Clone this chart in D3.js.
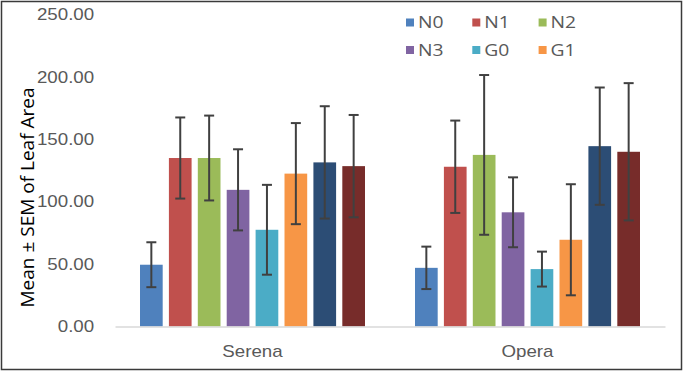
<!DOCTYPE html>
<meta charset="utf-8">
<title>Mean ± SEM of Leaf Area</title>
<style>
body { margin: 0; background: #fff; }
svg { display: block; font-family: "Open Sans", sans-serif; }
.axis--y path, .axis--y line { display: none; }
.axis--y text { fill: #595959; font-size: 16px; }
.axis--x line { display: none; }
.axis--x path { stroke: #d9d9d9; stroke-width: 1.5px; }
.axis--x text { fill: #595959; font-size: 16px; }
.err line { stroke: #404040; stroke-width: 2px; }
.legend text { fill: #595959; font-size: 16.5px; }
</style>
<svg id="chart" width="683" height="372"></svg>
<script src="https://d3js.org/d3.v7.min.js"></script>
<script>
// values
const groups = ["Serena", "Opera"];
const series = ["N0", "N1", "N2", "N3", "G0", "G1", "G2", "G3"];
const colours = ["#4f81bd", "#c0504d", "#9bbb59", "#8064a2", "#4bacc6", "#f79646", "#2c4d75", "#772c2a"];
const serenaMean = [49.5, 135, 135, 109.5, 77.5, 122.5, 131.5, 128.5];
const serenaSem = [18, 32.5, 34, 32.5, 36, 40.5, 45, 41];
const operaMean = [47, 128, 137.5, 91.5, 46, 69.5, 144.5, 140];
const operaSem = [17, 37, 64, 28, 14, 44.5, 47, 55];
const yTicks = [0, 50, 100, 150, 200, 250];
const legendShown = ["N0", "N1", "N2", "N3", "G0", "G1"]; // the last two entries are cut off in the original

const stretch = 1.17; // the source picture is a bit wider than tall

let svg = d3.select("#chart");

let rows = [];
groups.forEach((g, gi) => {
  let means = gi === 0 ? serenaMean : operaMean;
  let sems = gi === 0 ? serenaSem : operaSem;
  series.forEach((s, i) => rows.push({ group: g, series: s, mean: means[i], sem: sems[i] }));
});

let x0 = d3.scaleBand().domain(groups).range([115, 665]);
let x1 = d3.scaleBand().domain(series).range([25, 250]).paddingInner(0.215);
let y = d3.scaleLinear().domain([0, 250]).range([326.5, 14.5]);
let colour = d3.scaleOrdinal().domain(series).range(colours);

// frame
svg.append("rect")
    .attr("x", 1.5).attr("y", 1.5)
    .attr("width", 680).attr("height", 368)
    .attr("fill", "none")
    .attr("stroke", "#3a3a3a")
    .attr("stroke-width", 1.5);

// y axis labels
svg.append("g")
    .attr("class", "axis axis--y")
    .attr("transform", "translate(100,0)")
    .call(d3.axisLeft(y).tickValues(yTicks).tickFormat(d3.format(".2f")).tickSize(0).tickPadding(5))
  .selectAll("text")
    .attr("transform", "scale(" + stretch + ",1)");

// bars
let bar = svg.append("g").selectAll("g")
  .data(rows)
  .enter().append("g")
    .attr("transform", d => "translate(" + (x0(d.group) + x1(d.series)) + ",0)");

bar.append("rect")
    .attr("x", 0)
    .attr("width", x1.bandwidth())
    .attr("y", d => y(d.mean))
    .attr("height", d => y(0) - y(d.mean))
    .attr("fill", d => colour(d.series));

// error bars
let err = bar.append("g").attr("class", "err");
let cx = x1.bandwidth() / 2;
err.append("line")
    .attr("x1", cx).attr("x2", cx)
    .attr("y1", d => y(d.mean + d.sem))
    .attr("y2", d => y(d.mean - d.sem));
err.append("line")
    .attr("x1", cx - 5).attr("x2", cx + 5)
    .attr("y1", d => y(d.mean + d.sem))
    .attr("y2", d => y(d.mean + d.sem));
err.append("line")
    .attr("x1", cx - 5).attr("x2", cx + 5)
    .attr("y1", d => y(d.mean - d.sem))
    .attr("y2", d => y(d.mean - d.sem));

// x axis
let xAxis = svg.append("g")
    .attr("class", "axis axis--x")
    .attr("transform", "translate(0," + y(0) + ")")
    .call(d3.axisBottom(x0).tickSize(0).tickSizeOuter(0).tickPadding(19.5));
xAxis.selectAll(".tick text")
    .attr("transform", "scale(" + stretch + ",1)");

// y axis title
svg.append("text")
    .attr("transform", "translate(34," + ((y(0) + y(250)) / 2 + 27) + ") rotate(-90)")
    .attr("text-anchor", "middle")
    .attr("fill", "#000")
    .style("font-size", "19px")
    .text("Mean ± SEM of Leaf Area");

// legend
let legend = svg.append("g")
    .attr("class", "legend")
    .selectAll("g")
  .data(legendShown)
  .enter().append("g")
    .attr("transform", (d, i) => "translate(" + (406 + (i % 3) * 66.3) + "," + (22.5 + Math.floor(i / 3) * 27.5) + ")");

legend.append("rect")
    .attr("x", 0).attr("y", -4)
    .attr("width", 8).attr("height", 8)
    .attr("fill", d => colour(d));

legend.append("text")
    .attr("transform", "translate(12,0) scale(" + stretch + ",1)")
    .attr("dy", "0.36em")
    .text(d => d);
</script>
